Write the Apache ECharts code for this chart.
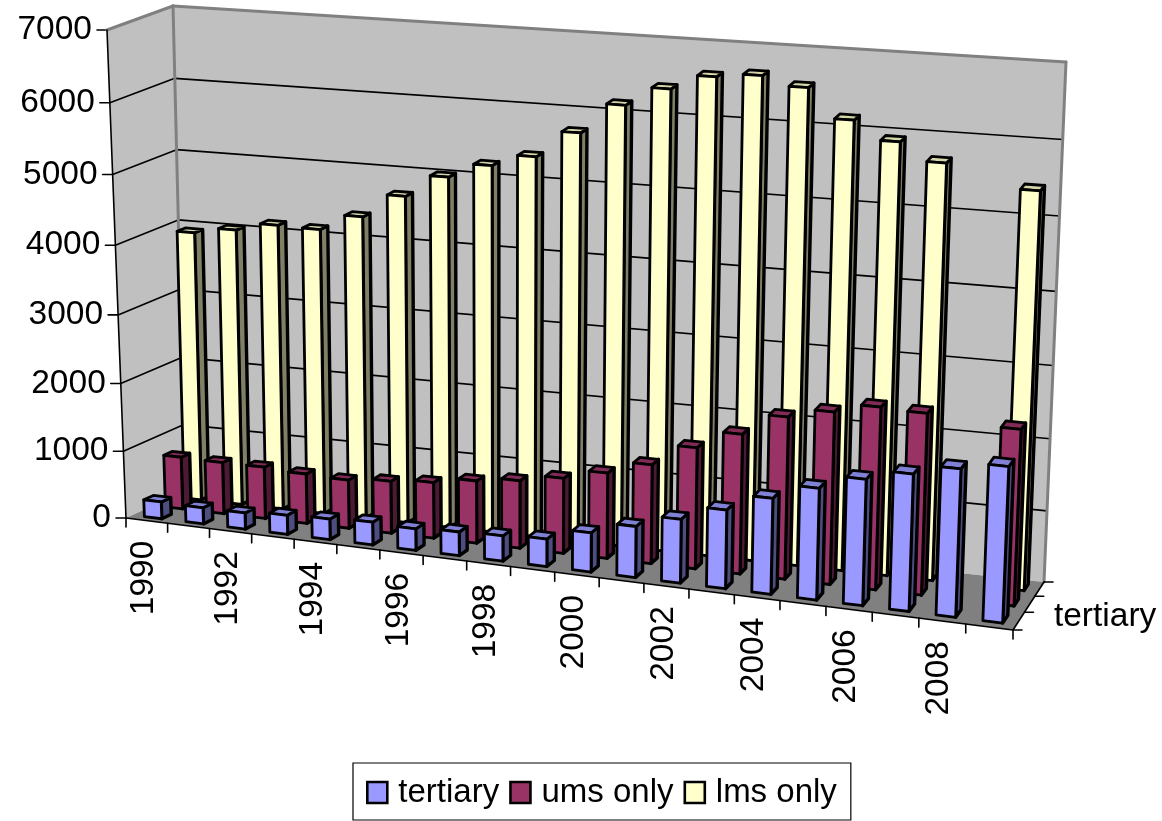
<!DOCTYPE html>
<html><head><meta charset="utf-8">
<style>html,body{margin:0;padding:0;background:#fff}#c{width:1162px;height:821px}</style>
<script src="https://cdn.jsdelivr.net/npm/echarts@6/dist/echarts.min.js"></script>
</head><body><div id="c"></div>
<script>
const years = [1990,1991,1992,1993,1994,1995,1996,1997,1998,1999,2000,2001,2002,2003,2004,2005,2006,2007,2008,2009];
const yearLabels = ['1990','1992','1994','1996','1998','2000','2002','2004','2006','2008'];
const valueTicks = [0,1000,2000,3000,4000,5000,6000,7000];
const tertiary = [252,241,241,283,304,335,315,346,367,398,566,733,911,1117,1355,1570,1766,1910,2053,2155];
const umsOnly = [774,764,764,733,712,764,816,909,982,1086,1231,1417,1725,1981,2287,2420,2551,2531,null,2440];
const lmsOnly = [3928,4017,4136,4126,4354,4689,5003,5208,5374,5743,6158,6417,6619,6676,6561,6177,5936,5704,null,5432];
const depthNames = ['tertiary','ums only','lms only'];

// Perspective of the 3D box: pixel corners of floor and top planes (front-left, front-right, back-right, back-left)
const floorQuad = [[126,518],[1013,630],[1044,582],[185,491]];
const topQuad = [[107,30],[1034,102],[1066,62],[173,6]];
const W = 1162, H = 821;
const warpX = 1.069, warpZ = 0.85, warpT = 1.052;
const warp=(s,k)=>s/(s+(1-s)*k);
function planePoint(q,u,z){
  const a=warp(u,warpX),b=warp(z,warpZ);
  const fx=q[0][0]+(q[1][0]-q[0][0])*a, fy=q[0][1]+(q[1][1]-q[0][1])*a;
  const bx=q[3][0]+(q[2][0]-q[3][0])*a, by=q[3][1]+(q[2][1]-q[3][1])*a;
  return [fx+(bx-fx)*b,fy+(by-fy)*b];
}
// u: along years 0..1, z: depth 0..1, t: height 0..1
function proj(u,z,t){const a=planePoint(floorQuad,u,z),b=planePoint(topQuad,u,z),w=warp(t,warpT);return [a[0]+(b[0]-a[0])*w,a[1]+(b[1]-a[1])*w];}

// read library scales and convert to box units
function unitU(api,slot){const c=api.coord([slot,0]);const s=api.size([1,0])[0];return (c[0]-s/2)/W;}
function unitT(api,v){return 1-api.coord([0,v])[1]/H;}

const GAPX=0.29, GAPZ=0.28;
function barRender(depthIndex,front,side,top){
  return function(params,api){
    const i=api.value(0),v=api.value(1);
    if(v==null||isNaN(v))return null;
    const n=years.length,base=unitU(api,i),step=1/n;
    const u0=base+step*GAPX,u1=base+step*(1-GAPX);
    const z0=(depthIndex+GAPZ)/3,z1=(depthIndex+1-GAPZ)/3;
    const t=unitT(api,v);
    const poly=(pts,c,w)=>({type:'polygon',shape:{points:pts},style:{fill:c,stroke:'#000',lineWidth:w,lineJoin:'round'},silent:true});
    return {type:'group',children:[
      poly([proj(u1,z0,0),proj(u1,z1,0),proj(u1,z1,t),proj(u1,z0,t)],side,3.4),
      poly([proj(u0,z0,t),proj(u1,z0,t),proj(u1,z1,t),proj(u0,z1,t)],top,2.8),
      poly([proj(u0,z0,0),proj(u1,z0,0),proj(u1,z0,t),proj(u0,z0,t)],front,2.8)
    ]};
  };
}
function frameRender(params,api){
  const ch=[];
  const poly=(pts,c)=>ch.push({type:'polygon',shape:{points:pts},style:{fill:c,stroke:null},silent:true});
  const line=(a,b,c,w)=>ch.push({type:'line',shape:{x1:a[0],y1:a[1],x2:b[0],y2:b[1]},style:{stroke:c,lineWidth:w,lineCap:'round'},silent:true});
  const text=(x,y,s,align,vAlign,rot)=>ch.push({type:'text',x,y,rotation:rot||0,style:{text:s,fill:'#000',font:'33.5px "Liberation Sans", Arial, sans-serif',align,verticalAlign:vAlign},silent:true});
  poly([proj(0,1,0),proj(1,1,0),proj(1,1,1),proj(0,1,1)],'#C0C0C0');
  poly([proj(0,0,0),proj(0,1,0),proj(0,1,1),proj(0,0,1)],'#C0C0C0');
  poly([proj(0,0,0),proj(1,0,0),proj(1,1,0),proj(0,1,0)],'#808080');
  valueTicks.forEach(v=>{
    const t=unitT(api,v);
    if(v>0&&v<7000){
      line(proj(0,0,t),proj(0,1,t),'#000',1.6);
      line(proj(0,1,t),proj(1,1,t),'#000',1.6);
    }
    const p=proj(0,0,t);
    line(p,[p[0]-10,p[1]],'#000',1.6);
    text(p[0]-15,p[1],String(v),'right','middle');
  });
  line(proj(0,0,1),proj(0,1,1),'#808080',3);
  line(proj(0,1,1),proj(1,1,1),'#808080',3);
  line(proj(0,1,0),proj(0,1,1),'#808080',3);
  line(proj(1,1,0),proj(1,1,1),'#808080',3);
  line(proj(0,0,0),proj(0,0,1),'#000',1.6);
  line(proj(0,0,0),proj(1,0,0),'#000',1.6);
  line(proj(1,0,0),proj(1,1,0),'#000',1.6);
  const n=years.length;
  for(let i=0;i<=n;i++){const u=i<n?unitU(api,i):1;const p=proj(u,0,0);line(p,[p[0],p[1]+9],'#000',1.6);}
  yearLabels.forEach(lb=>{
    const i=years.indexOf(+lb),u=unitU(api,i)+0.5/n,p=proj(u,0,0);
    text(p[0]-3,p[1]+20,lb,'right','middle',Math.PI/2);
  });
  for(let k=0;k<=depthNames.length;k++){const p=proj(1,k/3,0);line(p,[p[0]+9,p[1]],'#000',1.6);}
  const q=proj(1,1/6,0);
  text(q[0]+35,q[1]-4,depthNames[0],'left','middle');
  return {type:'group',children:ch};
}
const pairs=a=>a.map((v,i)=>[i,v]);
const chart=echarts.init(document.getElementById('c'),null,{renderer:'canvas'});
chart.setOption({
  animation:false,backgroundColor:'#fff',
  grid:{left:0,top:0,width:W,height:H,containLabel:false},
  xAxis:{type:'category',data:years.map(String),show:false},
  yAxis:{type:'value',min:0,max:7000,interval:1000,show:false},
  legend:{
    left:353,top:763,padding:[13,14,11,13],itemGap:10,itemWidth:20,itemHeight:21,
    borderColor:'#000',borderWidth:1.2,backgroundColor:'#fff',icon:'rect',
    textStyle:{fontFamily:'"Liberation Sans", Arial, sans-serif',fontSize:33,color:'#000',padding:[0,0,0,6]},
    data:[
      {name:'tertiary',itemStyle:{color:'#9999FF',borderColor:'#000',borderWidth:2.6}},
      {name:'ums only',itemStyle:{color:'#993366',borderColor:'#000',borderWidth:2.6}},
      {name:'lms only',itemStyle:{color:'#FFFFCC',borderColor:'#000',borderWidth:2.6}}
    ]
  },
  series:[
    {type:'custom',name:'frame',z:1,silent:true,coordinateSystem:'cartesian2d',data:[[0,0]],renderItem:frameRender,clip:false,encode:{x:0,y:1}},
    {type:'custom',name:'lms only',z:2,silent:true,itemStyle:{color:'#FFFFCC'},data:pairs(lmsOnly),renderItem:barRender(2,'#FFFFCC','#808066','#D5D5AA'),clip:false,encode:{x:0,y:1}},
    {type:'custom',name:'ums only',z:3,silent:true,itemStyle:{color:'#993366'},data:pairs(umsOnly),renderItem:barRender(1,'#993366','#4D1A33','#802B55'),clip:false,encode:{x:0,y:1}},
    {type:'custom',name:'tertiary',z:4,silent:true,itemStyle:{color:'#9999FF'},data:pairs(tertiary),renderItem:barRender(0,'#9999FF','#4D4D80','#8080D5'),clip:false,encode:{x:0,y:1}}
  ]
});
</script></body></html>
